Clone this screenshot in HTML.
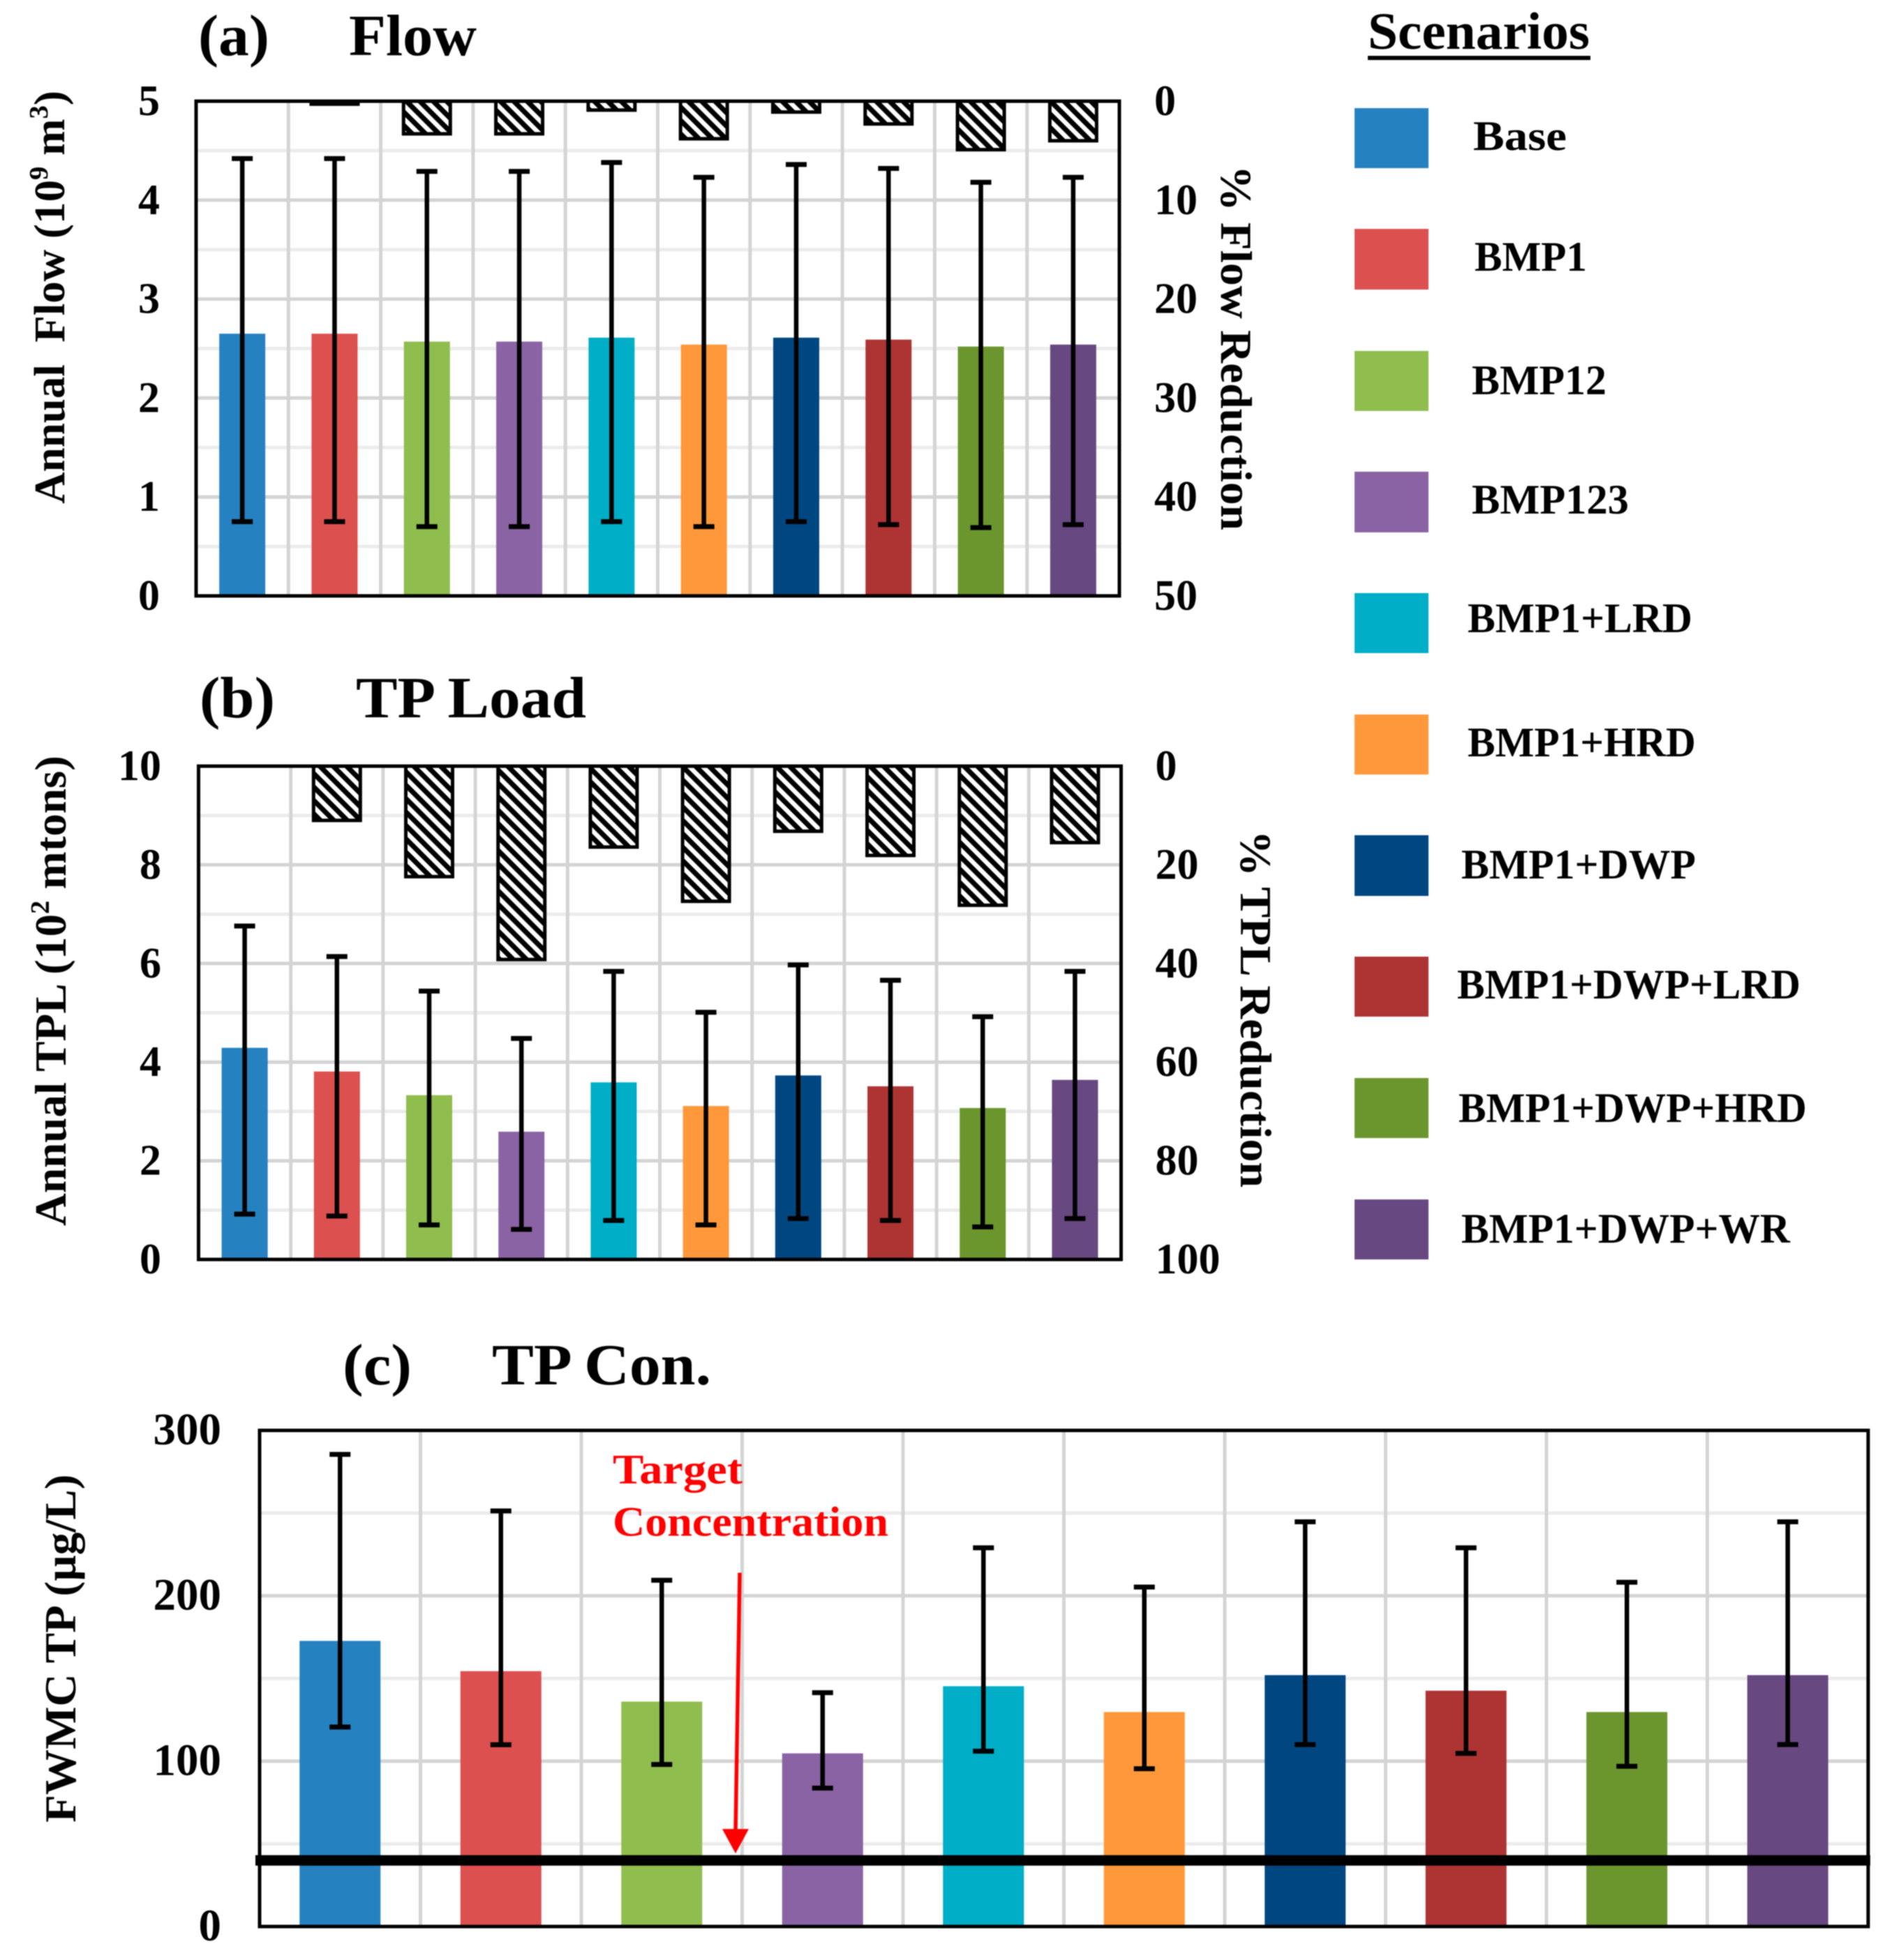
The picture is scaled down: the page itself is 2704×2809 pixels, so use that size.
<!DOCTYPE html>
<html lang="en">
<head>
<meta charset="utf-8">
<title>Flow, TP Load and TP Concentration by BMP Scenario</title>
<style>
  html, body { margin: 0; padding: 0; background: #fff; }
  svg { display: block; filter: blur(0.8px); }
  text { font-family: "Liberation Serif", "Noto Serif CJK SC", serif; font-weight: bold; fill: #000; }
</style>
</head>
<body>
<svg id="figure" xmlns="http://www.w3.org/2000/svg" width="2704" height="2809" viewBox="0 0 2704 2809">
  <defs>
    <pattern id="hatch" patternUnits="userSpaceOnUse" width="13.6" height="13.6" patternTransform="rotate(-45)">
      <rect width="13.6" height="13.6" fill="#000"></rect>
      <rect x="0" y="0" width="6.4" height="13.6" fill="#fff"></rect>
    </pattern>
  </defs>
  <rect width="2704" height="2809" fill="#fff"></rect>

  <g id="panel-a"></g>
  <g id="panel-b"></g>
  <g id="panel-c"></g>

  <!-- Panel titles -->
  <text x="284" y="79" font-size="84" textLength="102" lengthAdjust="spacingAndGlyphs">(a)</text>
  <text x="500" y="79" font-size="84" textLength="183" lengthAdjust="spacingAndGlyphs">Flow</text>
  <text x="286" y="1028" font-size="84" textLength="108" lengthAdjust="spacingAndGlyphs">(b)</text>
  <text x="510" y="1028" font-size="84" textLength="330" lengthAdjust="spacingAndGlyphs">TP Load</text>
  <text x="491" y="1984" font-size="84" textLength="99" lengthAdjust="spacingAndGlyphs">(c)</text>
  <text x="705" y="1984" font-size="84" textLength="314" lengthAdjust="spacingAndGlyphs">TP Con.</text>

  <!-- Axis titles -->
  <text transform="translate(92,722) rotate(-90)" font-size="62" textLength="592" lengthAdjust="spacingAndGlyphs">Annual&#160; Flow (10<tspan font-size="38" dy="-24">9</tspan><tspan dy="24"> m</tspan><tspan font-size="38" dy="-24">3</tspan><tspan dy="24">)</tspan></text>
  <text transform="translate(1750,237) rotate(90)" font-size="64" textLength="523" lengthAdjust="spacingAndGlyphs">% Flow Reduction</text>
  <text transform="translate(94,1757) rotate(-90)" font-size="64" textLength="674" lengthAdjust="spacingAndGlyphs">Annual TPL (10<tspan font-size="38" dy="-24">2</tspan><tspan dy="24"> mtons)</tspan></text>
  <text transform="translate(1778,1190) rotate(90)" font-size="64" textLength="512" lengthAdjust="spacingAndGlyphs">% TPL Reduction</text>
  <text transform="translate(108,2612) rotate(-90)" font-size="64" textLength="499" lengthAdjust="spacingAndGlyphs">FWMC TP (µg/L)</text>

  <!-- Annotation text -->
  <text x="878" y="2126" font-size="60" textLength="186" lengthAdjust="spacingAndGlyphs" style="fill:#ff0000">Target</text>
  <text x="878" y="2201" font-size="60" textLength="395" lengthAdjust="spacingAndGlyphs" style="fill:#ff0000">Concentration</text>

  <!-- Legend -->
  <g>
    <text x="1960" y="70" font-size="75" textLength="318" lengthAdjust="spacingAndGlyphs">Scenarios</text>
    <rect x="1960" y="80" width="319" height="6" fill="#000"></rect>

    <rect x="1941" y="155" width="106" height="86" fill="#2581c0"></rect>
    <text x="2111" y="215" font-size="60" textLength="134" lengthAdjust="spacingAndGlyphs">Base</text>

    <rect x="1941" y="328" width="106" height="87" fill="#dc504f"></rect>
    <text x="2113" y="388" font-size="60" textLength="161" lengthAdjust="spacingAndGlyphs">BMP1</text>

    <rect x="1941" y="503" width="106" height="86" fill="#8fbd4e"></rect>
    <text x="2109" y="565" font-size="60" textLength="193" lengthAdjust="spacingAndGlyphs">BMP12</text>

    <rect x="1941" y="676" width="106" height="87" fill="#8a63a5"></rect>
    <text x="2109" y="736" font-size="60" textLength="225" lengthAdjust="spacingAndGlyphs">BMP123</text>

    <rect x="1941" y="850" width="106" height="86" fill="#00aec7"></rect>
    <text x="2103" y="906" font-size="60" textLength="322" lengthAdjust="spacingAndGlyphs">BMP1+LRD</text>

    <rect x="1941" y="1024" width="106" height="86" fill="#ff983a"></rect>
    <text x="2103" y="1084" font-size="60" textLength="327" lengthAdjust="spacingAndGlyphs">BMP1+HRD</text>

    <rect x="1941" y="1197" width="106" height="87" fill="#004782"></rect>
    <text x="2094" y="1259" font-size="60" textLength="336" lengthAdjust="spacingAndGlyphs">BMP1+DWP</text>

    <rect x="1941" y="1371" width="106" height="86" fill="#ae3333"></rect>
    <text x="2088" y="1431" font-size="60" textLength="492" lengthAdjust="spacingAndGlyphs">BMP1+DWP+LRD</text>

    <rect x="1941" y="1545" width="106" height="86" fill="#6b962e"></rect>
    <text x="2090" y="1608" font-size="60" textLength="499" lengthAdjust="spacingAndGlyphs">BMP1+DWP+HRD</text>

    <rect x="1941" y="1719" width="106" height="86" fill="#674880"></rect>
    <text x="2094" y="1781" font-size="60" textLength="471" lengthAdjust="spacingAndGlyphs">BMP1+DWP+WR</text>
  </g>
</svg>

<script>
// ---- Data ----
const categories = ['Base', 'BMP1', 'BMP12', 'BMP123', 'BMP1+LRD', 'BMP1+HRD', 'BMP1+DWP', 'BMP1+DWP+LRD', 'BMP1+DWP+HRD', 'BMP1+DWP+WR'];

const flowMean = [2.65, 2.65, 2.57, 2.57, 2.61, 2.54, 2.61, 2.59, 2.52, 2.54];
const flowHigh = [4.42, 4.42, 4.29, 4.29, 4.38, 4.23, 4.36, 4.32, 4.18, 4.23];
const flowLow = [0.75, 0.75, 0.70, 0.70, 0.75, 0.70, 0.75, 0.72, 0.69, 0.72];
const flowReduction = [0, 0.3, 3.3, 3.3, 0.9, 3.8, 1.1, 2.3, 4.9, 4.0];
const flowTicks = [0, 1, 2, 3, 4, 5];
const flowReductionTicks = [0, 10, 20, 30, 40, 50];

const tplMean = [4.29, 3.81, 3.33, 2.59, 3.59, 3.11, 3.73, 3.51, 3.07, 3.64];
const tplHigh = [6.76, 6.14, 5.44, 4.48, 5.84, 5.01, 5.97, 5.66, 4.92, 5.84];
const tplLow = [0.92, 0.88, 0.70, 0.61, 0.79, 0.70, 0.83, 0.79, 0.66, 0.83];
const tplReduction = [0, 11, 22.4, 39.2, 16.4, 27.4, 13.2, 18.1, 28.2, 15.5];
const tplTicks = [0, 2, 4, 6, 8, 10];
const tplReductionTicks = [0, 20, 40, 60, 80, 100];

const fwmcMean = [172.7, 154.4, 136, 104.7, 145.3, 129.7, 152, 142.6, 129.7, 152];
const fwmcHigh = [285.5, 251.3, 209.4, 141.4, 229, 205.3, 244.7, 229, 208.2, 244.7];
const fwmcLow = [120.6, 109.9, 98, 83.7, 106, 95.4, 110, 104.7, 96.9, 110];
const fwmcTicks = [0, 100, 200, 300];
const targetConcentration = 40;

// ---- Styling ----
const barColors = ['#2581c0', '#dc504f', '#8fbd4e', '#8a63a5', '#00aec7', '#ff983a', '#004782', '#ae3333', '#6b962e', '#674880'];
const SVG_NS = 'http://www.w3.org/2000/svg';

function mk(tag, attrs, parent) {
  const el = document.createElementNS(SVG_NS, tag);
  for (const k in attrs) el.setAttribute(k, attrs[k]);
  parent.appendChild(el);
  return el;
}

// ---- Axis functions ----
function linearY(max, top, bottom) {
  return function (v) { return bottom - (v / max) * (bottom - top); };
}
function reversedY(max, top, bottom) {
  return function (v) { return top + (v / max) * (bottom - top); };
}
function bandX(left, right, count) {
  const step = (right - left) / count;
  return {
    step: step,
    center: function (i) { return left + step * (i + 0.5); },
    edge: function (i) { return left + step * i; }
  };
}

function drawPanel(opts) {
  const g = document.getElementById(opts.id);
  const x = bandX(opts.left, opts.right, categories.length);
  const ticks = opts.ticks;
  const max = ticks[ticks.length - 1];
  const y = linearY(max, opts.top, opts.bottom);

  // minor horizontal gridlines (midway between major ticks)
  for (let i = 0; i < ticks.length - 1; i++) {
    const mid = (ticks[i] + ticks[i + 1]) / 2;
    const line = mk('line', { x1: opts.left, x2: opts.right, y1: y(mid), y2: y(mid), stroke: '#ececec', 'stroke-width': 5 }, g);
    
    
  }
  // major horizontal gridlines
  for (let i = 1; i < ticks.length - 1; i++) {
    const line = mk('line', { x1: opts.left, x2: opts.right, y1: y(ticks[i]), y2: y(ticks[i]), stroke: '#d4d4d4', 'stroke-width': 5 }, g);
    
    
  }
  // vertical gridlines at category boundaries
  for (let i = 1; i < categories.length; i++) {
    const line = mk('line', { x1: x.edge(i), x2: x.edge(i), y1: opts.top, y2: opts.bottom, stroke: '#d4d4d4', 'stroke-width': 5 }, g);
    
    
  }

  // reduction bars on the reversed secondary axis
  if (opts.reduction) {
    const rTicks = opts.reductionTicks;
    const yR = reversedY(rTicks[rTicks.length - 1], opts.top, opts.bottom);
    opts.reduction.forEach(function (v, i) {
      if (v <= 0) return;
      const w = opts.barWidth + 1;
      const r = mk('rect', {
        x: x.center(i) - w / 2, y: opts.top, width: w, height: yR(v) - opts.top,
        fill: 'url(#hatch)', stroke: '#000', 'stroke-width': 5
      }, g);
      
      
    });
    rTicks.forEach(function (t) {
      const label = mk('text', { x: opts.right + opts.rightTickGap, y: yR(t) + 20, 'font-size': 62 }, g);
      label.textContent = String(t);
      
      
    });
  }

  // value bars
  opts.mean.forEach(function (v, i) {
    const r = mk('rect', {
      x: x.center(i) - opts.barWidth / 2, y: y(v), width: opts.barWidth, height: y(0) - y(v), fill: barColors[i]
    }, g);
    
    
  });

  // error bars
  opts.mean.forEach(function (v, i) {
    const cx = x.center(i);
    const stem = mk('line', { x1: cx, x2: cx, y1: y(opts.high[i]), y2: y(opts.low[i]), stroke: '#000', 'stroke-width': 6.5 }, g);
    
    
    const capTop = mk('line', { x1: cx - 15, x2: cx + 15, y1: y(opts.high[i]), y2: y(opts.high[i]), stroke: '#000', 'stroke-width': 7 }, g);
    
    
    const capLow = mk('line', { x1: cx - 15, x2: cx + 15, y1: y(opts.low[i]), y2: y(opts.low[i]), stroke: '#000', 'stroke-width': 7 }, g);
    
    
  });

  // frame
  const frame = mk('rect', {
    x: opts.left, y: opts.top, width: opts.right - opts.left, height: opts.bottom - opts.top,
    fill: 'none', stroke: '#000', 'stroke-width': 5
  }, g);
  
  

  // left tick labels
  ticks.forEach(function (t) {
    const label = mk('text', { x: opts.tickRight, y: y(t) + 20, 'font-size': opts.tickSize, 'text-anchor': 'end' }, g);
    label.textContent = String(t);
    
    
  });

  return { g: g, y: y, x: x };
}

drawPanel({
  id: 'panel-a', left: 281, right: 1604, top: 145, bottom: 854, tickRight: 229, rightTickGap: 50, barWidth: 66, tickSize: 62,
  ticks: flowTicks, mean: flowMean, high: flowHigh, low: flowLow,
  reduction: flowReduction, reductionTicks: flowReductionTicks
});

drawPanel({
  id: 'panel-b', left: 284.5, right: 1606.5, top: 1098, bottom: 1805, tickRight: 231, rightTickGap: 49, barWidth: 66, tickSize: 62,
  ticks: tplTicks, mean: tplMean, high: tplHigh, low: tplLow,
  reduction: tplReduction, reductionTicks: tplReductionTicks
});

const panelC = drawPanel({
  id: 'panel-c', left: 372, right: 2677, top: 2050, bottom: 2761, tickRight: 317, barWidth: 116, tickSize: 65,
  ticks: fwmcTicks, mean: fwmcMean, high: fwmcHigh, low: fwmcLow
});

// target concentration line
const targetLine = mk('line', {
  x1: 366, x2: 2680, y1: panelC.y(targetConcentration), y2: panelC.y(targetConcentration), stroke: '#000', 'stroke-width': 15
}, panelC.g);



// arrow from the annotation down to the target line
const arrowTipY = panelC.y(targetConcentration) - 10;
const arrowShaft = mk('line', { x1: 1060, y1: 2254, x2: 1054, y2: arrowTipY - 30, stroke: '#ff0000', 'stroke-width': 5.5 }, panelC.g);


const arrowHead = mk('polygon', {
  points: '1035,' + (arrowTipY - 35) + ' 1073,' + (arrowTipY - 35) + ' 1054,' + arrowTipY, fill: '#ff0000'
}, panelC.g);


</script>
</body>
</html>
